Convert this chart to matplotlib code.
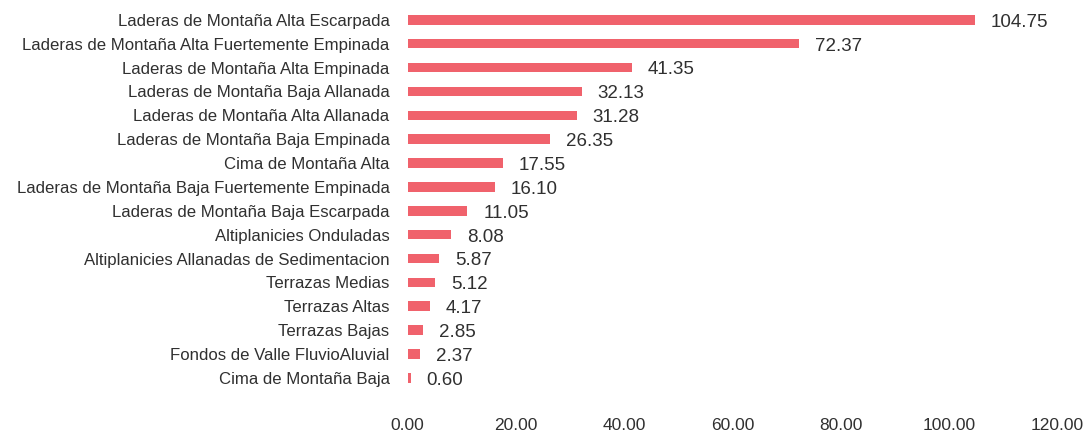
import matplotlib.pyplot as plt

# unidades geomorfologicas y superficie
unidades = [
    "Laderas de Montaña Alta Escarpada",
    "Laderas de Montaña Alta Fuertemente Empinada",
    "Laderas de Montaña Alta Empinada",
    "Laderas de Montaña Baja Allanada",
    "Laderas de Montaña Alta Allanada",
    "Laderas de Montaña Baja Empinada",
    "Cima de Montaña Alta",
    "Laderas de Montaña Baja Fuertemente Empinada",
    "Laderas de Montaña Baja Escarpada",
    "Altiplanicies Onduladas",
    "Altiplanicies Allanadas de Sedimentacion",
    "Terrazas Medias",
    "Terrazas Altas",
    "Terrazas Bajas",
    "Fondos de Valle FluvioAluvial",
    "Cima de Montaña Baja",
]
valores = [104.75, 72.37, 41.35, 32.13, 31.28, 26.35, 17.55, 16.10,
           11.05, 8.08, 5.87, 5.12, 4.17, 2.85, 2.37, 0.60]
ticks_x = [0, 20, 40, 60, 80, 100, 120]

plt.rcParams["font.family"] = ["Liberation Sans", "DejaVu Sans"]

color_barra = "#f0626c"
color_texto = "#303030"

fig = plt.figure(figsize=(10.9, 4.37), dpi=100)
ax = fig.add_axes([0.374, 0.108, 0.596, 0.874])

pos = list(range(len(valores)))
ax.barh(pos, valores, height=0.4, color=color_barra)
for y, v in zip(pos, valores):
    ax.text(v + 2.9, y + 0.1, f"{v:.2f}", va="center", ha="left",
            fontsize=13.5, color=color_texto)

ax.set_yticks(pos)
ax.set_yticklabels(unidades, fontsize=12.1, color=color_texto)
ax.set_ylim(len(valores) - 0.5, -0.5)
ax.set_xlim(0, 120)
ax.set_xticks(ticks_x)
ax.set_xticklabels([f"{t:.2f}" for t in ticks_x], fontsize=12.5, color=color_texto)
ax.tick_params(axis="y", length=0, pad=13)
ax.tick_params(axis="x", length=0, pad=20)
for s in ax.spines.values():
    s.set_visible(False)

fig.savefig("out.png", dpi=100)
